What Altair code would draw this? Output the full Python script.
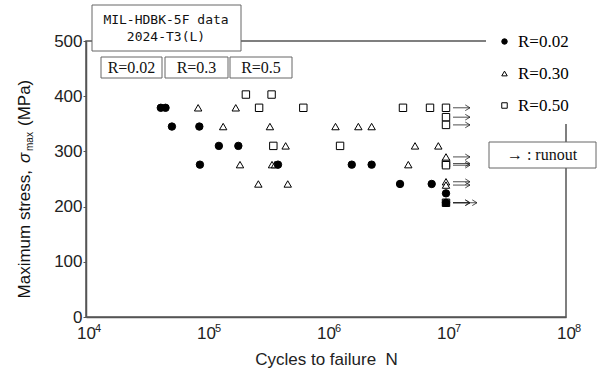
import altair as alt
import pandas as pd

# ---------------- data ----------------
SERIES = ["R=0.02", "R=0.30", "R=0.50"]

R002_N = [42000, 46000, 52000, 88000, 128000, 186000, 89000, 398000, 1.64e6, 2.4e6, 4.14e6, 7.6e6, 1.0e7, 1.0e7]
R002_S = [379, 379, 345, 345, 310, 310, 276, 276, 276, 276, 241, 241, 224, 207]
R002_RO = [0, 0, 0, 0, 0, 0, 0, 0, 0, 0, 0, 0, 0, 1]

R030_N = [86000, 177000, 139000, 341000, 1.2e6, 1.86e6, 2.4e6, 461000, 5.52e6, 8.63e6,
          192000, 355000, 376000, 4.85e6, 273000, 480000, 1.0e7, 1.0e7, 1.0e7, 1.0e7]
R030_S = [379, 379, 345, 345, 345, 345, 345, 310, 310, 310,
          276, 276, 276, 276, 241, 241, 290, 245, 239, 207]
R030_RO = [0] * 16 + [1] * 4

R050_N = [215000, 352000, 277000, 647000, 4.38e6, 7.36e6, 364000, 1.31e6,
          1.0e7, 1.0e7, 1.0e7, 1.0e7, 1.0e7, 1.0e7]
R050_S = [403, 403, 379, 379, 379, 379, 310, 310, 379, 362, 348, 278, 275, 207]
R050_RO = [0] * 8 + [1] * 6

X_TICKS = [1e4, 1e5, 1e6, 1e7, 1e8]
X_EXP = ["4", "5", "6", "7", "8"]
Y_TICKS = [0, 100, 200, 300, 400, 500]

TITLE_LINES = ["MIL-HDBK-5F data", "2024-T3(L)"]
R_BOX_LABELS = ["R=0.02", "R=0.3", "R=0.5"]
RUNOUT_LABEL = "\u2192 : runout"

# ---------------- build table (squares, triangles, then dots on top) ----------------
rows = []
for name, Ns, Ss, ROs in [(SERIES[2], R050_N, R050_S, R050_RO),
                          (SERIES[1], R030_N, R030_S, R030_RO),
                          (SERIES[0], R002_N, R002_S, R002_RO)]:
    for n, s, r in zip(Ns, Ss, ROs):
        rows.append({"R": name, "N": n, "S": s, "runout": r})
df = pd.DataFrame(rows)

W, H = 480, 276
FONT = "Liberation Sans"
SERIF = "Liberation Serif"
AX = "#555555"

xscale = alt.Scale(type="log", domain=[1e4, 1e8], nice=False)
yscale = alt.Scale(domain=[0, 500], nice=False)

legend = alt.Legend(title=None, orient="none", legendX=400, legendY=-18,
                    fillColor="white", padding=10, symbolSize=30,
                    symbolStrokeWidth=1,
                    labelFont=SERIF, labelFontSize=17, labelColor="black",
                    rowPadding=14, labelOffset=5)

xenc = alt.X("N:Q", scale=xscale, axis=alt.Axis(
    values=X_TICKS, labelExpr="'10'", title="Cycles to failure\u00a0 N",
    titleFont=FONT, titleFontSize=17, titleFontWeight="normal", titleColor="#222",
    labelFont=FONT, labelFontSize=17, labelColor="#222", ticks=False,
    labelPadding=8, titlePadding=10, grid=False, domainColor=AX,
    domainWidth=1.5, labelFlush=False))
yenc = alt.Y("S:Q", scale=yscale, axis=alt.Axis(
    values=Y_TICKS, title=None, labelFont=FONT, labelFontSize=17,
    labelColor="#222", ticks=True, tickSize=3, tickColor=AX, labelPadding=1,
    grid=False, domainColor=AX, domainWidth=1.5))

points = alt.Chart(df).mark_point(filled=True, strokeWidth=1,
                                  size=55, opacity=1).encode(
    x=xenc, y=yenc,
    shape=alt.Shape("R:N", scale=alt.Scale(domain=SERIES, range=["circle", "triangle-up", "square"]), legend=legend),
    fill=alt.Fill("R:N", scale=alt.Scale(domain=SERIES, range=["black", "white", "white"]), legend=legend),
    stroke=alt.Stroke("R:N", scale=alt.Scale(domain=SERIES, range=["black", "black", "black"]), legend=legend),
    order=alt.Order("idx:Q"),
).transform_window(idx="row_number()")

layers = [points]

# runout arrows
ro = df[df["runout"] == 1]
for name, length in [("R=0.02", 31), ("R=0.30", 24), ("R=0.50", 24)]:
    sub = ro[ro["R"] == name]
    layers.append(alt.Chart(sub).mark_rule(color="#222", strokeWidth=0.8,
                                           xOffset=7, x2Offset=length).encode(
        x=alt.X("N:Q", scale=xscale), x2="N:Q", y=alt.Y("S:Q", scale=yscale)))
    layers.append(alt.Chart(sub).mark_point(shape="M-1,-0.6L0,0L-1,0.6", filled=False,
                                            stroke="#222", strokeWidth=0.8, size=90,
                                            xOffset=length, opacity=1).encode(
        x=alt.X("N:Q", scale=xscale), y=alt.Y("S:Q", scale=yscale)))

# exponent of x tick labels
exp_df = pd.DataFrame({"N": X_TICKS, "e": X_EXP})
layers.append(alt.Chart(exp_df).mark_text(font=FONT, fontSize=11, align="left",
                                          baseline="middle", xOffset=9, color="#222").encode(
    x=alt.X("N:Q", scale=xscale), y=alt.value(H + 12), text="e:N"))

# annotation boxes
def box(x1, x2, y1, y2, stroke="#666666"):
    return alt.Chart(pd.DataFrame({"a": [0]})).mark_rect(
        fill="white", stroke=stroke, strokeWidth=1).encode(
        x=alt.value(x1), x2=alt.value(x2), y=alt.value(y1), y2=alt.value(y2))

def label(txt, x, y, font, size, align="center", angle=0, style=None):
    kw = dict(font=font, fontSize=size, align=align, baseline="middle", color="#111")
    if angle:
        kw["angle"] = angle
    if style:
        kw["fontStyle"] = style
    return alt.Chart(pd.DataFrame({"t": [txt]})).mark_text(**kw).encode(
        x=alt.value(x), y=alt.value(y), text="t:N")

# title box
layers.append(box(6, 155, -36, 10))
layers.append(label(TITLE_LINES[0], 80, -21, "DejaVu Sans Mono", 13))
layers.append(label(TITLE_LINES[1], 80, -4, "DejaVu Sans Mono", 13))

# R boxes
for (x1, x2), t in zip([(15, 76), (79, 142), (144, 206)], R_BOX_LABELS):
    layers.append(box(x1, x2, 16, 37))
    layers.append(label(t, (x1 + x2) / 2, 27, SERIF, 16))

# runout box
layers.append(box(403, 510, 101, 127))
layers.append(label(RUNOUT_LABEL, 456, 114, SERIF, 16))

# y-axis title with subscript
YT_X = -61
YS = 5
layers.append(label("Maximum stress,", YT_X, 124 + YS, FONT, 17, align="right", angle=270))
layers.append(label("\u03c3", YT_X, 117 + YS, FONT, 17, align="left", angle=270, style="italic"))
layers.append(label("max", YT_X + 5, 105 + YS, FONT, 10, align="left", angle=270))
layers.append(label("(MPa)", YT_X, 80 + YS, FONT, 17, align="left", angle=270))

chart = alt.layer(*layers).properties(
    width=W, height=H,
    autosize=alt.AutoSizeParams(type="none"),
    padding={"left": 86, "top": 41, "right": 33, "bottom": 59},
    background="white",
).configure_view(stroke=AX, strokeWidth=1.5)

chart.save("out.html", embed_options={"renderer": "svg", "actions": False})
